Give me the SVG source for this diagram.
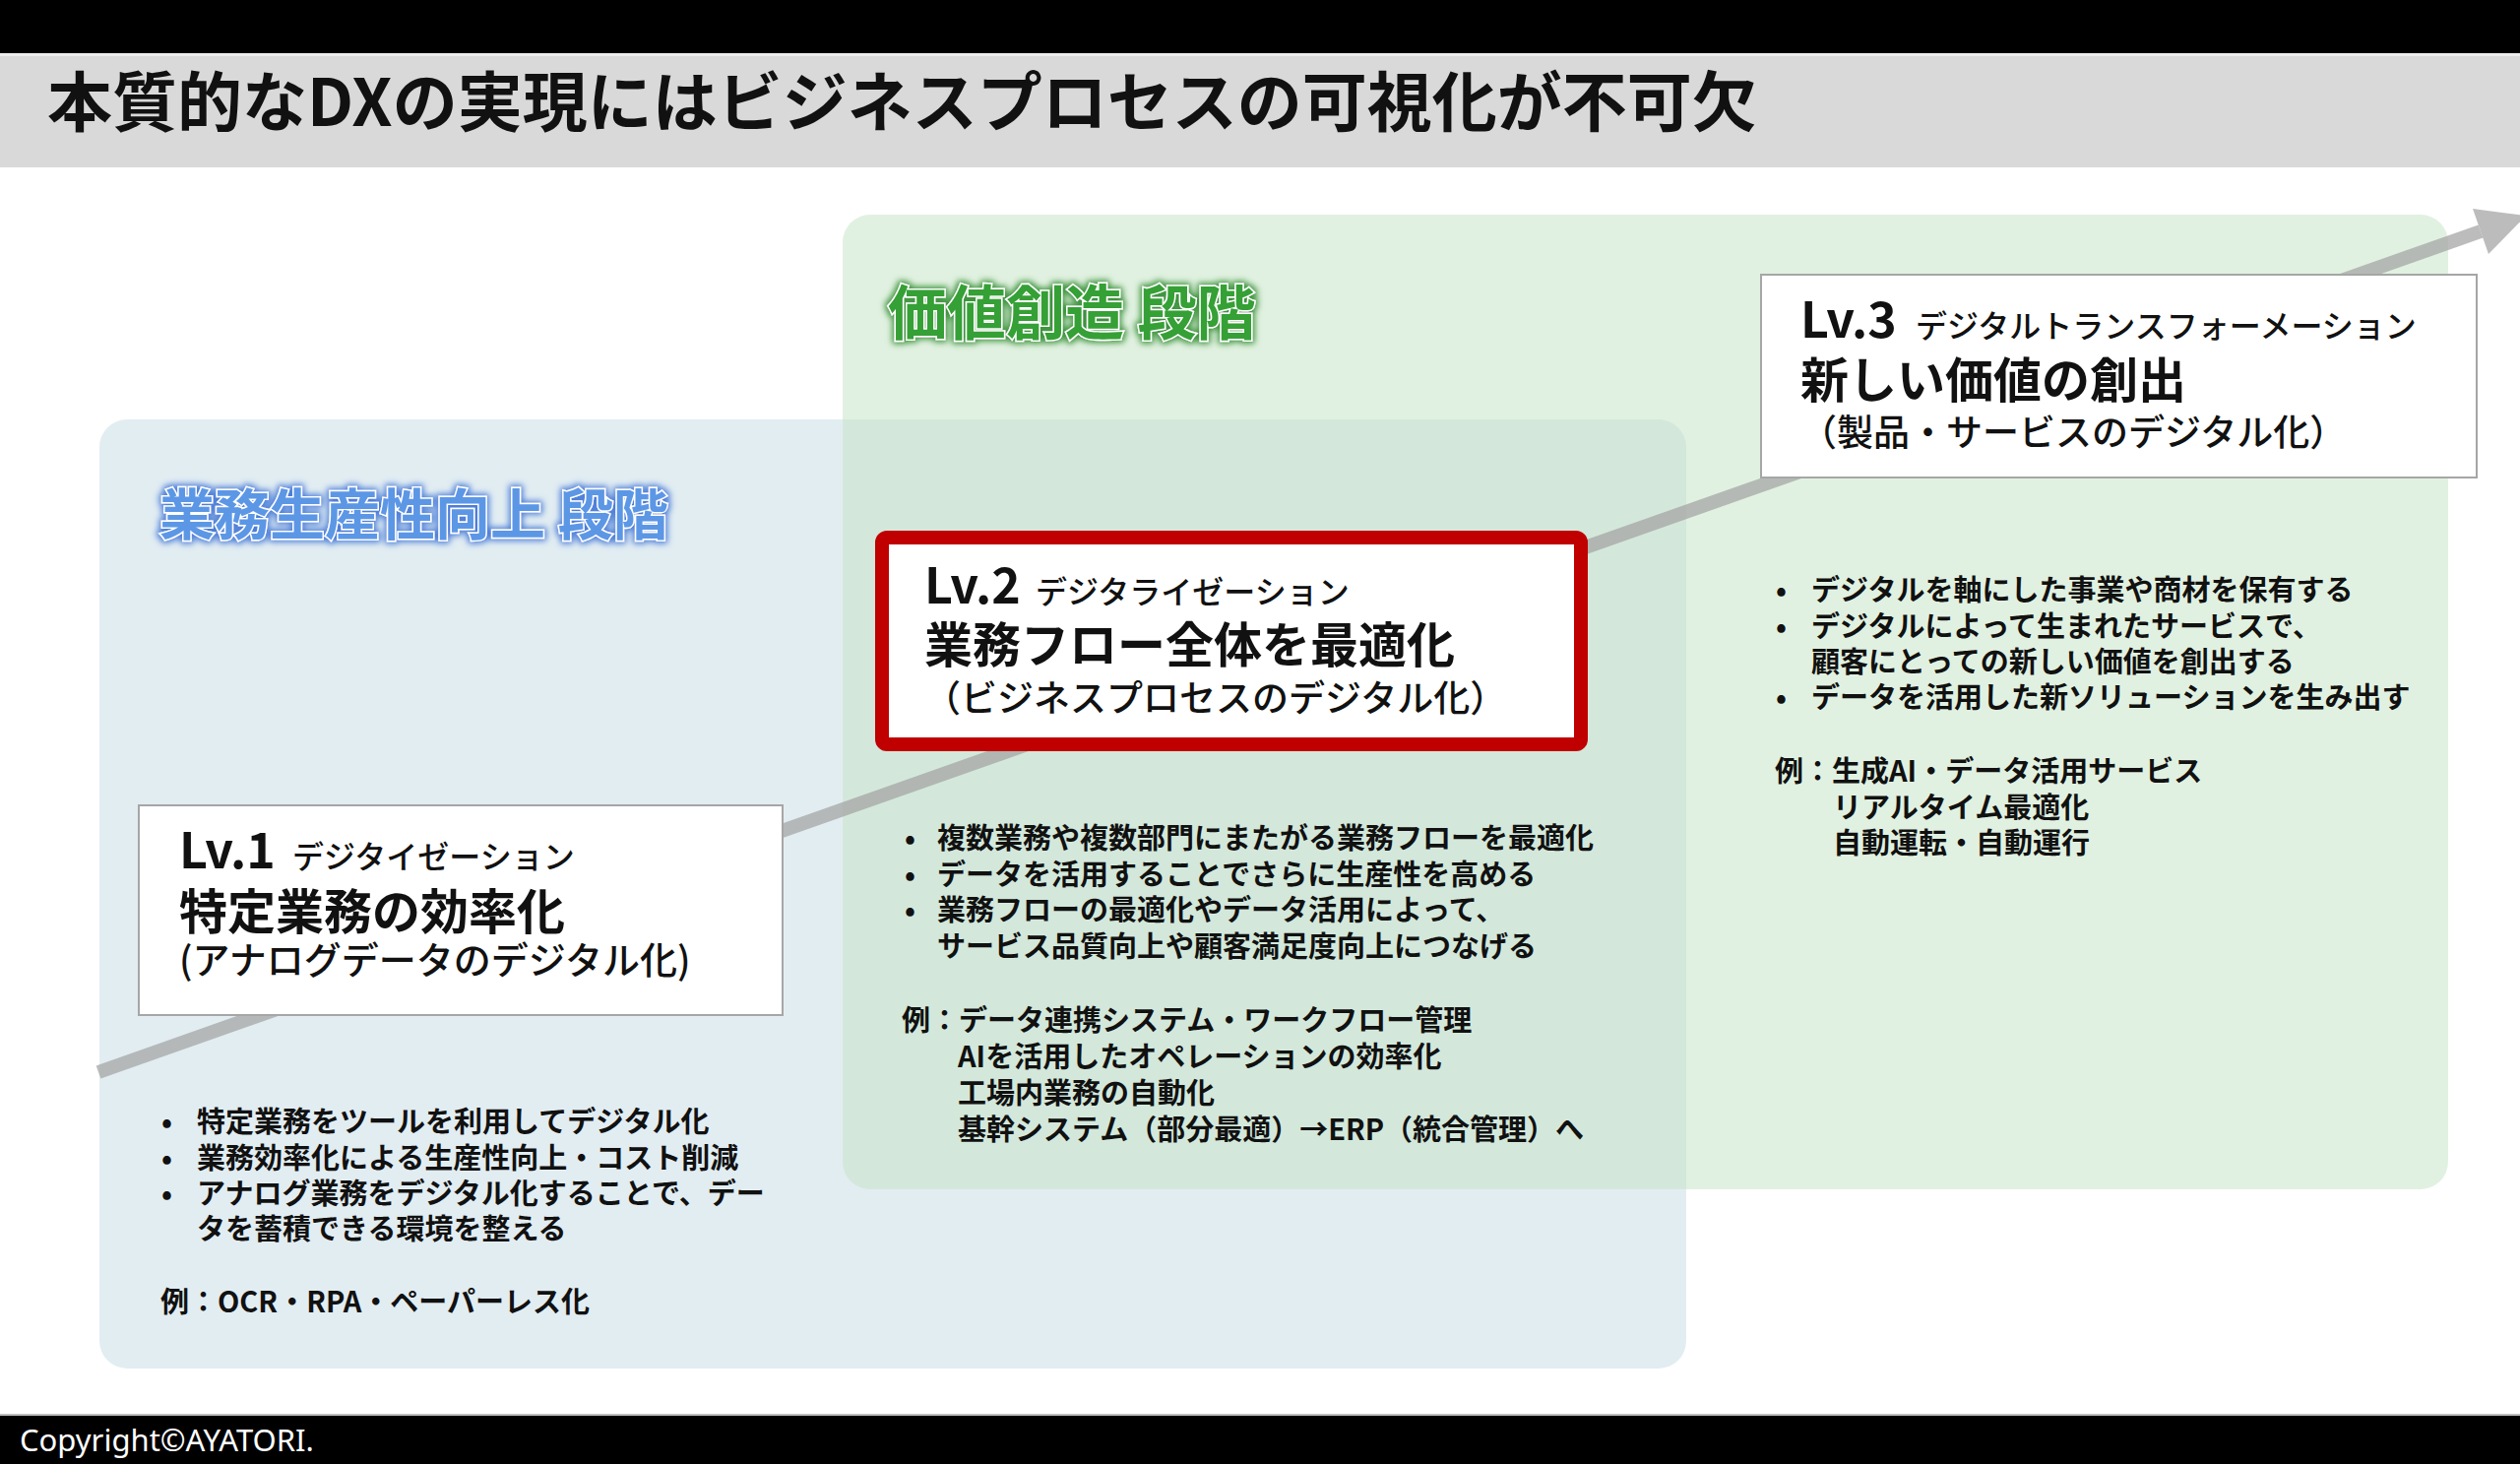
<svg xmlns="http://www.w3.org/2000/svg" width="2560" height="1487" viewBox="0 0 2560 1487">
<defs>
<style>
.t{font-family:"Noto Sans CJK JP","Noto Sans",sans-serif;fill:#111;}
.h{font-weight:700;}
.b{font-size:29px;font-weight:600;}
.lv{font-size:50px;font-weight:700;}
.kana{font-size:32px;font-weight:500;}
.main{font-size:49px;font-weight:700;}
.sub{font-size:38px;font-weight:500;}
.box{fill:#FFFFFF;stroke:#A6A6A6;stroke-width:2;}
</style>
<filter id="glowBlue" x="-10%" y="-40%" width="120%" height="180%">
<feMorphology in="SourceAlpha" operator="dilate" radius="2" result="d"/>
<feGaussianBlur in="d" stdDeviation="3" result="b"/>
<feFlood flood-color="#3C73D6" flood-opacity="0.9"/>
<feComposite in2="b" operator="in" result="g"/>
<feMerge><feMergeNode in="g"/><feMergeNode in="SourceGraphic"/></feMerge>
</filter>
<filter id="glowGreen" x="-10%" y="-40%" width="120%" height="180%">
<feMorphology in="SourceAlpha" operator="dilate" radius="2" result="d"/>
<feGaussianBlur in="d" stdDeviation="3" result="b"/>
<feFlood flood-color="#2A8A2A" flood-opacity="0.9"/>
<feComposite in2="b" operator="in" result="g"/>
<feMerge><feMergeNode in="g"/><feMergeNode in="SourceGraphic"/></feMerge>
</filter>
</defs>
<rect x="0" y="0" width="2560" height="1487" fill="#FFFFFF"/>

<g id="header">
<rect x="0" y="0" width="2560" height="54" fill="#000000"/>
<rect x="0" y="54" width="2560" height="3" fill="#EDEDED"/>
<rect x="0" y="57" width="2560" height="113" fill="#D9D9D9"/>
<text class="t h" x="48" y="128" font-size="66">本質的なDXの実現にはビジネスプロセスの可視化が不可欠</text>
</g>

<g id="footer">
<rect x="0" y="1436" width="2560" height="2" fill="#BFBFBF"/>
<rect x="0" y="1438" width="2560" height="49" fill="#000000"/>
<text x="20" y="1474" font-family="'Noto Sans','Liberation Sans',sans-serif" font-size="31" fill="#FFFFFF">Copyright©AYATORI.</text>
</g>

<g id="stage-productivity">
<rect x="101" y="426" width="1612" height="964" rx="28" ry="28" fill="#E2EDF2"/>
</g>
<g id="stage-value">
<rect x="856" y="218" width="1631" height="990" rx="28" ry="28" fill="#C4E3C4" fill-opacity="0.5"/>
</g>

<g id="connectors">
<line x1="100" y1="1089" x2="2520" y2="235" stroke="#A6A6A6" stroke-opacity="0.75" stroke-width="14"/>
<polygon points="2512,212 2528,258 2566,219" fill="#A6A6A6" fill-opacity="0.75"/>
</g>

<g id="label-productivity">
<text class="t h" x="162" y="543" font-size="56" stroke="#FFFFFF" stroke-width="3" paint-order="stroke" filter="url(#glowBlue)" style="fill:#5C97E6">業務生産性向上 段階</text>
</g>
<g id="label-value">
<text class="t h" x="902" y="340" font-size="60" stroke="#FFFFFF" stroke-width="3" paint-order="stroke" filter="url(#glowGreen)" style="fill:#34A034">価値創造 段階</text>
</g>

<g id="lv1">
<rect class="box" x="141" y="818" width="654" height="213"/>
<text class="t"><tspan class="lv" x="182" y="882">Lv.1</tspan><tspan class="kana" x="297" y="882">デジタイゼーション</tspan><tspan class="main" x="182" y="944">特定業務の効率化</tspan><tspan class="sub" x="182" y="989">(アナログデータのデジタル化)</tspan></text>
</g>

<g id="lv1-details">
<text class="t b"><tspan x="164" y="1150">•</tspan><tspan x="200" y="1150">特定業務をツールを利用してデジタル化</tspan><tspan x="164" y="1187">•</tspan><tspan x="200" y="1187">業務効率化による生産性向上・コスト削減</tspan><tspan x="164" y="1223">•</tspan><tspan x="200" y="1223">アナログ業務をデジタル化することで、デー</tspan><tspan x="200" y="1259">タを蓄積できる環境を整える</tspan><tspan x="163" y="1333">例：OCR・RPA・ペーパーレス化</tspan></text>
</g>

<g id="lv2">
<rect x="896" y="546" width="710" height="210" rx="5" ry="5" fill="#FFFFFF" stroke="#C00000" stroke-width="14"/>
<text class="t"><tspan class="lv" x="939" y="613">Lv.2</tspan><tspan class="kana" x="1052" y="613">デジタライゼーション</tspan><tspan class="main" x="939" y="673">業務フロー全体を最適化</tspan><tspan class="sub" x="939" y="723" style="font-size:37px">（ビジネスプロセスのデジタル化）</tspan></text>
</g>

<g id="lv2-details">
<text class="t b"><tspan x="919" y="862">•</tspan><tspan x="952" y="862">複数業務や複数部門にまたがる業務フローを最適化</tspan><tspan x="919" y="899">•</tspan><tspan x="952" y="899">データを活用することでさらに生産性を高める</tspan><tspan x="919" y="935">•</tspan><tspan x="952" y="935">業務フローの最適化やデータ活用によって、</tspan><tspan x="952" y="972">サービス品質向上や顧客満足度向上につなげる</tspan><tspan x="916" y="1047">例：データ連携システム・ワークフロー管理</tspan><tspan x="973" y="1084">AIを活用したオペレーションの効率化</tspan><tspan x="973" y="1121">工場内業務の自動化</tspan><tspan x="973" y="1158">基幹システム（部分最適）→ERP（統合管理）へ</tspan></text>
</g>

<g id="lv3">
<rect class="box" x="1789" y="279" width="727" height="206"/>
<text class="t"><tspan class="lv" x="1829" y="343">Lv.3</tspan><tspan class="kana" x="1946" y="343">デジタルトランスフォーメーション</tspan><tspan class="main" x="1829" y="404">新しい価値の創出</tspan><tspan class="sub" x="1829" y="453" style="font-size:37px">（製品・サービスのデジタル化）</tspan></text>
</g>

<g id="lv3-details">
<text class="t b"><tspan x="1804" y="610">•</tspan><tspan x="1840" y="610">デジタルを軸にした事業や商材を保有する</tspan><tspan x="1804" y="647">•</tspan><tspan x="1840" y="647">デジタルによって生まれたサービスで、</tspan><tspan x="1840" y="683">顧客にとっての新しい価値を創出する</tspan><tspan x="1804" y="719">•</tspan><tspan x="1840" y="719">データを活用した新ソリューションを生み出す</tspan><tspan x="1803" y="794">例：生成AI・データ活用サービス</tspan><tspan x="1862" y="831">リアルタイム最適化</tspan><tspan x="1862" y="867">自動運転・自動運行</tspan></text>
</g>
</svg>
